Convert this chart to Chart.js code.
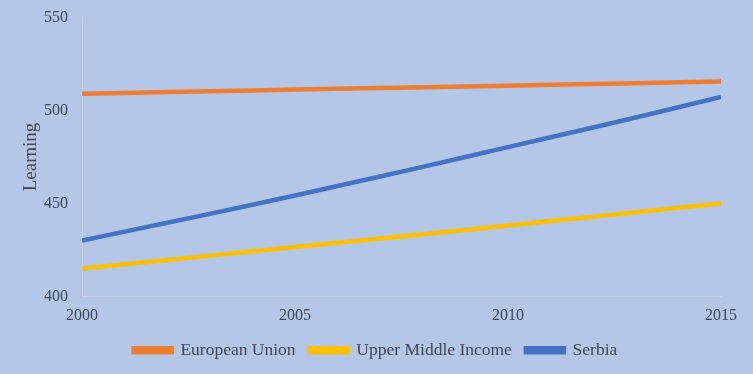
<!DOCTYPE html>
<html>
<head>
<meta charset="utf-8">
<script src="https://cdn.jsdelivr.net/npm/chart.js@4"></script>
<style>
html,body{margin:0;padding:0;background:#B4C7E7;}
#wrap{width:753px;height:374px;position:relative;}
</style>
</head>
<body>
<div id="wrap"><canvas id="c" width="753" height="374"></canvas></div>
<script>
const years = [2000,2001,2002,2003,2004,2005,2006,2007,2008,2009,2010,2011,2012,2013,2014,2015];
const euValues = [509.1,509.5,510.0,510.4,510.8,511.3,511.7,512.1,512.6,513.0,513.4,513.9,514.3,514.7,515.2,515.6];
const umiValues = [415.0,417.3,419.6,421.9,424.2,426.5,428.8,431.1,433.4,435.7,438.1,440.5,442.9,445.3,447.7,450.0];
const serbiaValues = [430.0,434.8,439.6,444.4,449.3,454.3,459.4,464.5,469.7,475.0,480.3,485.6,490.9,496.3,501.8,507.3];
const xTicks = [2000,2005,2010,2015];
const yTicks = [400,450,500,550];
const seriesNames = ['European Union','Upper Middle Income','Serbia'];
const seriesColors = ['#ED7D31','#FFC000','#4472C4'];

const textColor = '#404858';
const fontFamily = '"Liberation Serif", "Times New Roman", serif';

function toPts(vals){ return years.map((y,i)=>({x:y,y:vals[i]})); }
const allVals = [euValues, umiValues, serbiaValues];

const bgPlugin = {
  id:'bg',
  beforeDraw(chart){
    const ctx = chart.ctx;
    ctx.save();
    ctx.fillStyle = '#B4C7E7';
    ctx.fillRect(0,0,chart.width,chart.height);
    ctx.restore();
  }
};

new Chart(document.getElementById('c'), {
  type:'line',
  data:{
    datasets: seriesNames.map((n,i)=>({
      label:n,
      data:toPts(allVals[i]),
      borderColor:seriesColors[i],
      backgroundColor:seriesColors[i],
      borderWidth:4.5,
      pointRadius:0,
      tension:0,
      fill:false
    }))
  },
  options:{
    responsive:false,
    animation:false,
    layout:{padding:{left:30,right:32,top:0,bottom:5}},
    plugins:{
      title:{
        display:true,
        text:'',
        font:{size:1},
        padding:{top:0,bottom:16.5}
      },
      legend:{
        position:'bottom',
        labels:{
          boxWidth:38,
          boxHeight:4,
          padding:14,
          color:textColor,
          font:{family:fontFamily,size:17.5}
        }
      },
      tooltip:{enabled:false}
    },
    scales:{
      x:{
        type:'linear',
        min:2000,max:2015,
        afterBuildTicks(axis){ axis.ticks = xTicks.map(v=>({value:v})); },
        ticks:{
          color:textColor,
          font:{family:fontFamily,size:16},
          maxRotation:0,
          padding:2,
          callback:(v)=>String(v)
        },
        grid:{display:false},
        border:{display:true,color:'#C9D0DC',width:1}
      },
      y:{
        min:400,max:550,
        afterBuildTicks(axis){ axis.ticks = yTicks.map(v=>({value:v})); },
        afterFit(axis){ axis.width = 52; },
        ticks:{
          color:textColor,
          font:{family:fontFamily,size:16},
          padding:6,
          callback:(v)=>String(v)
        },
        title:{
          display:true,
          text:'Learning',
          color:textColor,
          font:{family:fontFamily,size:19},
          padding:{top:-10,bottom:4}
        },
        grid:{display:false},
        border:{display:true,color:'#C9D0DC',width:1}
      }
    }
  },
  plugins:[bgPlugin]
});
</script>
</body>
</html>
